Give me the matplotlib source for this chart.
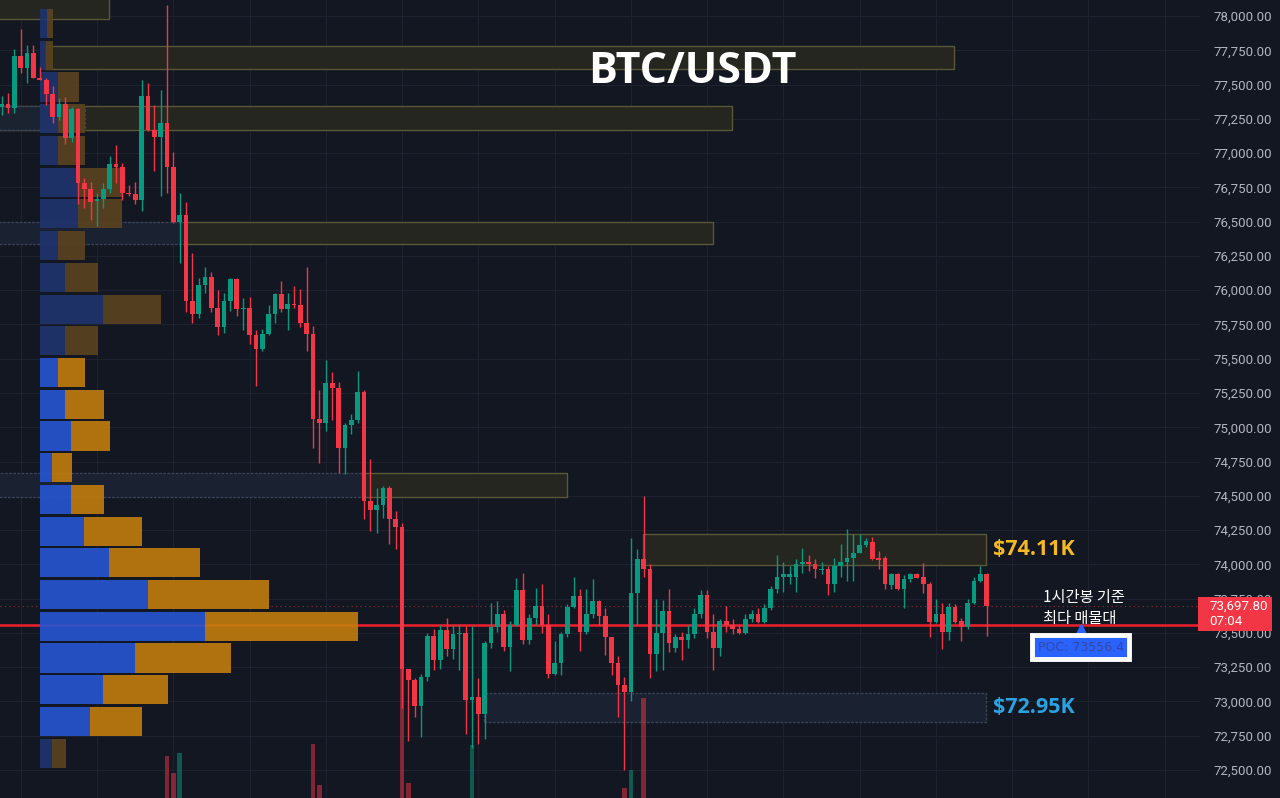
import numpy as np
import matplotlib
matplotlib.use("Agg")
import matplotlib.pyplot as plt
from matplotlib.patches import Rectangle
from matplotlib.transforms import blended_transform_factory, Affine2D
from matplotlib.ticker import FuncFormatter

plt.rcParams['font.family'] = ['Noto Sans CJK KR', 'DejaVu Sans']

# 1h candles (oldest -> newest)
opens = [77340, 77360, 77330, 77710, 77620, 77730, 77550, 77530, 77430, 77260,
         77360, 77110, 77320, 76780, 76740, 76650, 76665, 76740, 76920, 76900,
         76710, 76700, 76660, 77420, 77170, 77120, 77220, 76900, 76500, 76550,
         75920, 75830, 76040, 76100, 75870, 75730, 75920, 76080, 75860, 75870,
         75670, 75570, 75680, 75830, 75970, 75860, 75900, 75895, 75760, 75680,
         75060, 75030, 75320, 75290, 74850, 75020, 75050, 75260, 74460, 74400,
         74430, 74560, 74330, 74270, 73240, 73160, 72970, 73180, 73480, 73300,
         73520, 73380, 73490, 73500, 73010, 73030, 72910, 73430, 73540, 73640,
         73400, 73560, 73810, 73450, 73610, 73700, 73560, 73200, 73280, 73490,
         73690, 73770, 73510, 73640, 73730, 73620, 73470, 73280, 73120, 73070,
         73790, 74040, 73970, 73350, 73500, 73660, 73390, 73470, 73450, 73490,
         73640, 73780, 73510, 73390, 73590, 73560, 73530, 73500, 73600, 73640,
         73580, 73680, 73820, 73910, 73910, 73910, 74000, 74020, 74000, 73960,
         73970, 73860, 73990, 74020, 74050, 74080, 74140, 74160, 74050, 74050,
         73850, 73930, 73820, 73890, 73930, 73910, 73860, 73580, 73640, 73510,
         73690, 73590, 73540, 73720, 73880, 73930]
highs = [77420, 77440, 77760, 77905, 77790, 77790, 77630, 77550, 77490, 77400,
         77410, 77340, 77330, 76820, 76790, 76710, 76780, 76980, 77060, 76930,
         76770, 76790, 77530, 77510, 77350, 77460, 78080, 77010, 76710, 76640,
         76270, 76090, 76170, 76130, 76000, 75980, 76090, 76090, 75940, 75950,
         75710, 75720, 75890, 75980, 76070, 75980, 76030, 76010, 76170, 75740,
         75270, 75490, 75400, 75330, 75030, 75100, 75410, 75270, 74770, 74560,
         74570, 74570, 74390, 74300, 73240, 73170, 73200, 73500, 73530, 73560,
         73610, 73560, 73560, 73550, 73550, 73170, 73440, 73720, 73730, 73670,
         73590, 73900, 73940, 73640, 73830, 73860, 73640, 73440, 73510, 73710,
         73910, 73820, 73820, 73890, 73740, 73680, 73470, 73330, 73180, 74190,
         74110, 74500, 74000, 73750, 73740, 73820, 73490, 73510, 73560, 73680,
         73810, 73810, 73640, 73600, 73700, 73600, 73560, 73640, 73670, 73680,
         73710, 73840, 74070, 74020, 73990, 74040, 74120, 74070, 74040, 74020,
         73990, 74050, 74150, 74260, 74220, 74220, 74190, 74200, 74100, 74060,
         73940, 73940, 73920, 73940, 73940, 74010, 73870, 73750, 73720, 73720,
         73710, 73610, 73750, 73910, 73990, 73940]
lows = [77280, 77290, 77290, 77583, 77510, 77550, 77530, 77350, 77220, 77240,
        77070, 77080, 76630, 76600, 76510, 76470, 76600, 76710, 76780, 76660,
        76690, 76630, 76580, 77160, 76870, 76690, 76710, 76490, 76200, 75840,
        75760, 75800, 75980, 75840, 75670, 75690, 75850, 75810, 75710, 75610,
        75300, 75560, 75670, 75760, 75840, 75710, 75870, 75730, 75560, 74850,
        74740, 74970, 75050, 74670, 74660, 74950, 75030, 74330, 74240, 74230,
        74340, 74150, 74110, 72950, 72710, 72890, 72740, 73150, 73230, 73240,
        73330, 73310, 73230, 72760, 72660, 72690, 72730, 73390, 73510, 73370,
        73220, 73550, 73420, 73420, 73560, 73500, 73170, 73190, 73190, 73470,
        73680, 73370, 73490, 73610, 73560, 73340, 73190, 72890, 72500, 73000,
        73560, 73910, 73170, 73220, 73230, 73360, 73360, 73300, 73390, 73460,
        73610, 73460, 73230, 73330, 73510, 73490, 73490, 73490, 73580, 73570,
        73570, 73670, 73790, 73800, 73860, 73800, 73940, 73950, 73900, 73930,
        73780, 73800, 73910, 73880, 73880, 74080, 74130, 74030, 73970, 73820,
        73820, 73810, 73680, 73870, 73900, 73790, 73470, 73570, 73380, 73450,
        73570, 73440, 73530, 73710, 73870, 73475]
closes = [77360, 77330, 77710, 77620, 77730, 77550, 77530, 77430, 77260, 77360,
          77110, 77320, 76780, 76740, 76640, 76665, 76740, 76920, 76900, 76710,
          76700, 76660, 77420, 77170, 77120, 77220, 76900, 76500, 76550, 75920,
          75830, 76040, 76100, 75870, 75730, 75920, 76080, 75860, 75870, 75670,
          75570, 75680, 75830, 75970, 75860, 75900, 75895, 75760, 75680, 75060,
          75030, 75320, 75290, 74850, 75020, 75050, 75260, 74460, 74400, 74430,
          74560, 74330, 74270, 73240, 73160, 72970, 73180, 73480, 73300, 73520,
          73380, 73490, 73500, 73010, 73030, 72910, 73430, 73540, 73640, 73400,
          73560, 73810, 73450, 73610, 73700, 73560, 73200, 73280, 73490, 73690,
          73770, 73510, 73640, 73730, 73620, 73470, 73280, 73120, 73070, 73790,
          74040, 73970, 73350, 73500, 73660, 73430, 73470, 73450, 73490, 73640,
          73780, 73510, 73390, 73590, 73560, 73530, 73500, 73600, 73640, 73580,
          73680, 73820, 73910, 73930, 73930, 74000, 74020, 74000, 73970, 73970,
          73860, 73990, 74020, 74050, 74080, 74140, 74170, 74040, 74030, 73860,
          73930, 73820, 73890, 73930, 73900, 73860, 73580, 73640, 73510, 73690,
          73580, 73540, 73720, 73880, 73930, 73697.8]

# visible volume bars (candle index, size)
vol_index = [26, 27, 28, 49, 50, 63, 64, 74, 98, 99, 101]
vol_size = [42, 25, 45, 54, 13, 158, 15, 53, 10, 28, 100]

# volume profile rows, top row first
prof_top = 78051
prof_step = 231.4
prof_buy = [7, 6, 18, 18, 18, 38, 38, 18, 25, 63, 25, 18, 25, 31, 12, 31,
            44, 69, 108, 165, 95, 63, 50, 12]
prof_sell = [6, 7, 21, 27, 27, 44, 44, 27, 33, 58, 33, 27, 39, 39, 20, 33,
             58, 91, 121, 153, 96, 65, 52, 14]
prof_faded = [0, 1, 2, 3, 4, 5, 6, 7, 8, 9, 10, 23]
poc = 73556.4

# supply / demand zones (candle index span, price span)
zone_x0 = [-1, 6.8, -1, 28.9, 56.7, 100.9, -1, -1, -1, 75.9]
zone_x1 = [16.9, 149.9, 114.9, 111.9, 89.0, 154.9, 13.1, 28.9, 56.7, 154.9]
zone_top = [78200, 77781, 77344, 76497, 74667, 74222, 77344, 76497, 74667, 73062]
zone_bot = [77978, 77613, 77168, 76337, 74492, 73996, 77168, 76337, 74492, 72850]
zone_kind = ['y', 'y', 'y', 'y', 'y', 'y', 'b', 'b', 'b', 'b']

BG = '#131722'
UP = '#089981'
DOWN = '#f23645'

n = len(closes)
idx = np.arange(n)
last = closes[-1]
up = [c >= o for o, c in zip(opens, closes)]
cols = [UP if u else DOWN for u in up]

fig = plt.figure(figsize=(12.8, 7.98), dpi=100, facecolor=BG)
ax = fig.add_axes([0, 0, 1200 / 1280, 1])
ax.set_facecolor(BG)
ax.set_xlim(-0.27, 188.56)
ax.set_ylim(72296, 78117)

# zones
for x0, x1, t, b, k in zip(zone_x0, zone_x1, zone_top, zone_bot, zone_kind):
    if k == 'y':
        ax.add_patch(Rectangle((x0, b), x1 - x0, t - b, fc='#25271f', ec='#5e5c38',
                               lw=1, alpha=0.95, zorder=1))
    else:
        ax.add_patch(Rectangle((x0, b), x1 - x0, t - b, fc='#1b2232', ec='#3c4558',
                               lw=1, ls=(0, (2, 1)), alpha=0.95, zorder=1.1))

# volume bars at the bottom
vol_tr = blended_transform_factory(ax.transData, Affine2D().scale(1, 1 / 798) + ax.transAxes)
for i, v in zip(vol_index, vol_size):
    ax.add_patch(Rectangle((i - 0.37, 0), 0.74, v, transform=vol_tr,
                           fc=cols[i], alpha=0.5, lw=0, zorder=1.5))

# POC and last price lines
ax.axhline(poc, color='#f01f2d', lw=1.8, zorder=1.8)
ax.axhline(last, color=DOWN, lw=0.8, ls=(0, (1, 3)), alpha=0.6, zorder=1.2)

# volume profile on the left
prof_tr = blended_transform_factory(Affine2D().scale(1 / 1200, 1).translate(40 / 1200, 0) + ax.transAxes,
                                    ax.transData)
row_h = 212
for k in range(len(prof_buy)):
    bottom = prof_top - k * prof_step - row_h
    faded = k in prof_faded
    cb = '#1f346f' if faded else '#2656d2'
    cs = '#5b431f' if faded else '#c27d0d'
    ax.add_patch(Rectangle((0, bottom), prof_buy[k], row_h, transform=prof_tr,
                           fc=cb, lw=0, alpha=0.9, zorder=2))
    ax.add_patch(Rectangle((prof_buy[k], bottom), prof_sell[k], row_h, transform=prof_tr,
                           fc=cs, lw=0, alpha=0.9, zorder=2))

# candles
ax.vlines(idx, lows, highs, colors=cols, lw=1, zorder=3)
bottoms = [min(o, c) for o, c in zip(opens, closes)]
heights = [max(abs(c - o), 8) for o, c in zip(opens, closes)]
ax.bar(idx, heights, bottom=bottoms, width=0.74, color=cols, lw=0, zorder=4)

# axes styling
ax.yaxis.tick_right()
ax.set_yticks(np.arange(72500, 78001, 250))
ax.yaxis.set_major_formatter(FuncFormatter(lambda v, p: f"{v:,.2f}"))
ax.set_xticks(np.arange(3, 189, 12))
ax.tick_params(axis='x', length=0, labelbottom=False)
ax.tick_params(axis='y', length=0, pad=10, labelcolor='#b2b5be', labelsize=9.5)
for lab in ax.get_yticklabels():
    lab.set_fontfamily('Roboto')
ax.grid(True, color='#1d2130', lw=0.8)
ax.set_axisbelow(True)
for s in ax.spines.values():
    s.set_visible(False)

# annotations
ax.text(0.577, 0.91, 'BTC/USDT', transform=ax.transAxes, ha='center', va='center',
        color='white', fontsize=31, fontweight='bold', family='Open Sans')
ax.text(n, (zone_top[5] + zone_bot[5]) / 2, '$74.11K', ha='left', va='center',
        color='#f5b923', fontsize=15.5, fontweight='bold', family='Open Sans')
ax.text(n, (zone_top[9] + zone_bot[9]) / 2, '$72.95K', ha='left', va='center',
        color='#2aa3e2', fontsize=15.5, fontweight='bold', family='Open Sans')
ax.text(163.9, 73680, '1시간봉 기준\n최다 매물대', ha='left', va='center',
        color='white', fontsize=11, linespacing=1.3, fontweight='medium')
ax.plot([169.8], [poc - 25], marker='^', ms=7, color='#2962ff', zorder=5)
ax.text(169.8, 73395, f'POC: {poc}', ha='center', va='center', color='#3349a0',
        fontsize=9, family='DejaVu Sans', zorder=6,
        bbox=dict(boxstyle='square,pad=0.45', fc='#2962ff', ec='white', lw=3.5))

# last price tag on the price scale
tag_tr = blended_transform_factory(fig.transFigure, ax.transData)
fig.add_artist(Rectangle((1198 / 1280, last - 182), 74 / 1280, 248, transform=tag_tr,
                         fc=DOWN, lw=0, zorder=5))
fig.text(1209 / 1280, last, f"{last:,.2f}", transform=tag_tr, ha='left', va='center',
         color='white', fontsize=9.5, family='Roboto', zorder=6)
fig.text(1209 / 1280, last - 117, '07:04', transform=tag_tr, ha='left', va='center',
         color='white', fontsize=9.5, family='Roboto', zorder=6)

fig.savefig('out.png', dpi=100, facecolor=BG)
